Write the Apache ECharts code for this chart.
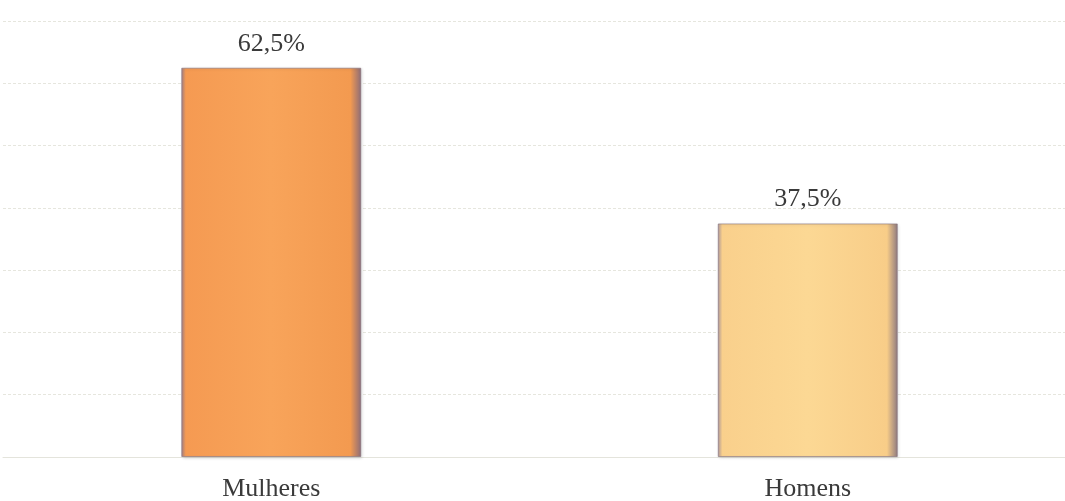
<!DOCTYPE html>
<html><head><meta charset="utf-8">
<script src="https://cdn.jsdelivr.net/npm/echarts@6/dist/echarts.min.js"></script>
<style>html,body{margin:0;padding:0;background:#fff}#c{width:1065px;height:501px}</style>
</head><body><div id="c"></div>
<script>
const categories = ['Mulheres', 'Homens'];
const values = [62.5, 37.5];
const barColors = [
  ['#a0808a', '#f59a52', '#f8a45a', '#f39a50', '#8c6c78'],
  ['#b09aa0', '#f9d08c', '#fcd894', '#f8cd88', '#8e7a80']
];
const yMin = 0, yMax = 70, yStep = 10;

function grad(c){
  return new echarts.graphic.LinearGradient(0,0,1,0,[
    {offset:0,color:c[0]},{offset:0.025,color:c[1]},{offset:0.5,color:c[2]},
    {offset:0.94,color:c[3]},{offset:1,color:c[4]}]);
}
const chart = echarts.init(document.getElementById('c'));
chart.setOption({
  backgroundColor:'#fff',
  animation:false,
  grid:{left:3,right:-11,top:21,bottom:44,containLabel:false,outerBoundsMode:'none'},
  xAxis:{type:'category',data:categories,
    axisLine:{show:true,lineStyle:{color:'#e4e4dc',width:1}},
    axisTick:{show:false},
    axisLabel:{margin:19,fontFamily:'Liberation Serif',fontSize:26,color:'#3a3a3a'}},
  yAxis:{type:'value',min:yMin,max:yMax,interval:yStep,
    axisLabel:{show:false},axisLine:{show:false},axisTick:{show:false},
    splitLine:{lineStyle:{color:'#e6e6de',width:1,type:[3,2]}}},
  series:[{type:'bar',barWidth:180,
    data:values.map((v,i)=>({value:v,itemStyle:{color:grad(barColors[i]),
      borderColor:'rgba(130,110,120,0.6)',borderWidth:1,
      shadowColor:'rgba(0,0,0,0.15)',shadowBlur:3,shadowOffsetX:1,shadowOffsetY:1}})),
    label:{show:true,position:'top',distance:11,fontFamily:'Liberation Serif',fontSize:26,color:'#3a3a3a',
      formatter:p=>p.value.toFixed(1).replace('.',',')+'%'}
  }]
});
</script></body></html>
